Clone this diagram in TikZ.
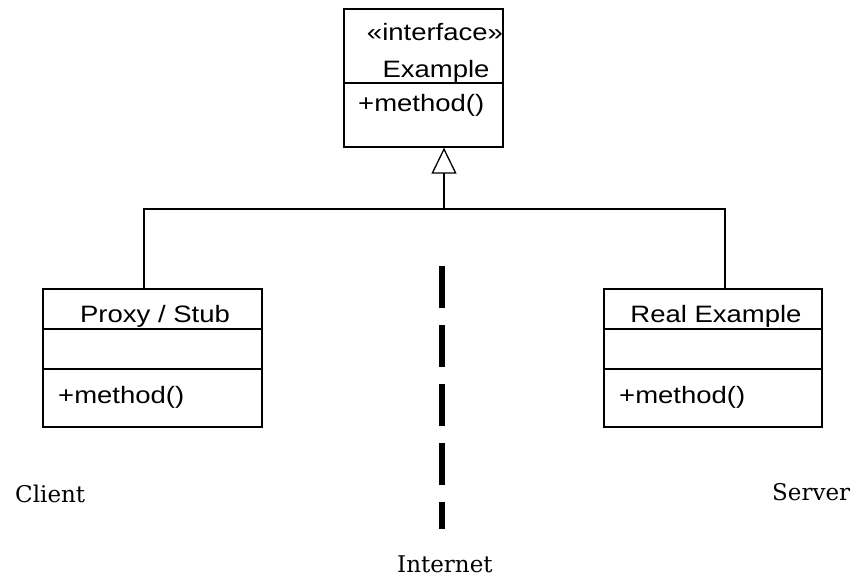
\documentclass[tikz,border=0pt]{standalone}
\usepackage{fontspec}
\usepackage{graphicx}
\usetikzlibrary{arrows.meta}
\newfontfamily\umlfont{Liberation Sans}
\newfontfamily\tagfont{DejaVu Serif}
% UML text is set slightly wide
\newcommand{\umltext}[1]{\scalebox{1.16}[1]{#1}}

\begin{document}
\begin{tikzpicture}[x=1pt,y=-1pt,
  umlbox/.style={draw, line width=1.3pt, inner sep=0pt, rectangle},
  umllabel/.style={inner sep=0pt, font=\umlfont\fontsize{23.7}{28}\selectfont},
  tierlabel/.style={inner sep=0pt, anchor=base west, font=\tagfont\fontsize{23}{27}\selectfont},
  link/.style={line width=1.3pt},
  net/.style={line width=6pt, dash pattern=on 42pt off 17pt}]
\useasboundingbox (0,0) rectangle (857,580);

% interface box
\node[umlbox, minimum width=159pt, minimum height=138pt] (iface) at (423.5,78) {};
\draw[link] (iface.west |- 0,83) -- (iface.east |- 0,83);
\node[umllabel, anchor=base] (stereo) at (435,41) {\umltext{«interface»}};
\node[umllabel, anchor=base] (ifname) at (436,78) {\umltext{Example}};
\node[umllabel, anchor=base west] (ifop) at (358,112) {\umltext{+method()}};

% proxy box
\node[umlbox, minimum width=219pt, minimum height=138pt] (proxy) at (152.5,358) {};
\draw[link] (proxy.west |- 0,329) -- (proxy.east |- 0,329);
\draw[link] (proxy.west |- 0,369) -- (proxy.east |- 0,369);
\node[umllabel, anchor=base] (pxname) at (155,322) {\umltext{Proxy / Stub}};
\node[umllabel, anchor=base west] (pxop) at (58,403) {\umltext{+method()}};

% real subject box
\node[umlbox, minimum width=218pt, minimum height=138pt] (real) at (713,358) {};
\draw[link] (real.west |- 0,329) -- (real.east |- 0,329);
\draw[link] (real.west |- 0,369) -- (real.east |- 0,369);
\node[umllabel, anchor=base] (rlname) at (716,322) {\umltext{Real Example}};
\node[umllabel, anchor=base west] (rlop) at (619,403) {\umltext{+method()}};

% realization links
\coordinate (lj) at (144,209);
\coordinate (mj) at (444,209);
\coordinate (rj) at (725,209);
\draw[link] (lj |- proxy.north) -- (lj) -- (rj) -- (rj |- real.north);
\draw[link, -{Triangle[open, width=25pt, length=26pt, line width=1.3pt]}] (mj) -- (mj |- iface.south);

% network boundary
\coordinate (nettop) at (442,266);
\coordinate (netbot) at (442,529);
\draw[net] (nettop) -- (netbot);

% tier labels
\node[tierlabel] (client) at (15,502) {Client};
\node[tierlabel] (server) at (772,500) {Server};
\node[tierlabel] (internet) at (397,572) {Internet};
\end{tikzpicture}
\end{document}
